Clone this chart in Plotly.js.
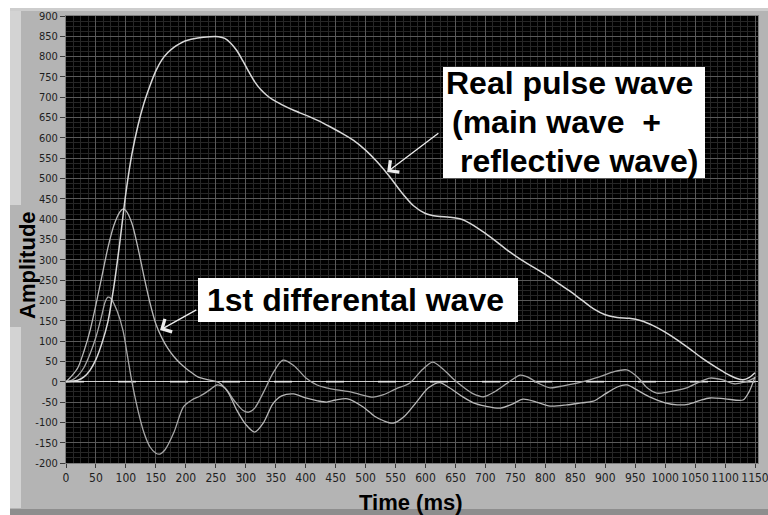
<!DOCTYPE html>
<html>
<head>
<meta charset="utf-8">
<script src="https://cdn.plot.ly/plotly-3.0.1.min.js"></script>
<style>html,body{margin:0;padding:0;background:#fff;}#chart{width:768px;height:515px;}</style>
</head>
<body>
<div id="chart"></div>
<script>
// ---- data ----
const pulseT = [0,10,20,30,40,50,60,70,80,90,100,110,120,130,140,150,160,170,180,190,200,220,240,255,265,275,285,295,305,315,325,335,345,360,380,400,420,440,460,480,500,520,540,560,580,600,620,640,660,680,700,720,740,760,780,800,820,840,860,880,900,920,940,960,980,1000,1020,1040,1060,1080,1100,1120,1130,1140,1150];
const pulseV = [0,1,4,12,28,55,95,148,235,345,465,560,630,685,728,765,792,810,823,832,839,846,849,849,845,833,815,790,763,738,719,705,694,682,668,656,643,628,612,594,570,540,505,466,433,414,407,405,400,385,365,343,320,300,282,264,244,224,202,180,165,158,156,150,138,122,103,82,60,40,22,8,5,10,22];

const diff1T = [0,10,20,30,40,50,60,70,80,90,95,100,110,120,130,140,150,160,170,180,190,200,210,220,240,255,270,285,300,315,330,345,360,380,400,420,435,450,470,496,515,530,546,565,585,605,624,640,660,680,700,725,745,763,785,808,836,860,880,900,920,936,955,975,1000,1020,1040,1060,1075,1100,1130,1140,1150];
const diff1V = [0,15,35,75,125,190,260,330,385,418,425,421,390,330,260,195,142,108,82,62,46,33,22,12,4,-2,-25,-70,-105,-124,-100,-55,-35,-30,-40,-47,-50,-45,-42,-62,-85,-96,-102,-85,-50,-15,-2,-15,-35,-52,-60,-65,-55,-43,-50,-60,-57,-52,-48,-30,-13,-8,-22,-38,-52,-57,-55,-45,-40,-42,-45,-25,12];

const diff2T = [0,10,20,30,40,50,60,65,70,75,85,95,103,110,120,130,140,150,157,165,180,196,210,224,240,252,265,280,295,305,315,330,345,362,380,400,419,435,452,475,495,512,530,550,574,595,612,630,648,663,680,697,715,735,758,770,790,808,830,863,890,915,936,955,970,986,1005,1036,1055,1075,1095,1115,1135,1150];
const diff2V = [0,4,15,35,68,110,165,195,208,205,175,127,60,0,-70,-125,-160,-176,-178,-168,-125,-62,-45,-35,-20,-8,-15,-45,-70,-75,-65,-25,20,53,40,10,-8,-15,-20,-25,-33,-38,-32,-18,-3,30,48,30,5,-13,-30,-37,-25,-5,16,12,-5,-15,-10,0,12,25,29,10,-15,-28,-25,-15,-2,9,5,-5,0,10];

const baseT = [0,1150];
const baseV = [0,0];

const xTicks = [0,50,100,150,200,250,300,350,400,450,500,550,600,650,700,750,800,850,900,950,1000,1050,1100,1150];
const yTicks = [-200,-150,-100,-50,0,50,100,150,200,250,300,350,400,450,500,550,600,650,700,750,800,850,900];

const labelPulse = ['Real pulse wave', '(main wave\u00A0\u00A0+', 'reflective wave)'];
const labelDiff = '1st differental wave';
const xTitle = 'Time (ms)';
const yTitle = 'Amplitude';

// ---- traces ----
const traces = [
  {x: baseT, y: baseV, mode: 'lines', line: {color: '#ffffff', width: 2, dash: '18px,34px'}, opacity: 0.55, hoverinfo: 'skip'},
  {x: diff2T, y: diff2V, mode: 'lines', line: {color: '#a6a6a6', width: 1.3, shape: 'spline', smoothing: 0.8}},
  {x: diff1T, y: diff1V, mode: 'lines', line: {color: '#b8b8b8', width: 1.3, shape: 'spline', smoothing: 0.8}},
  {x: pulseT, y: pulseV, mode: 'lines', line: {color: '#d9d9d9', width: 1.5, shape: 'spline', smoothing: 0.8}}
];

// paper coordinate helpers (plot area 66..758 x 16..463 px)
const L = 66, T = 16, W = 692, H = 447;
const px = v => (v - L) / W;
const py = v => (T + H - v) / H;

const textFont = {family: 'Liberation Sans, Arial, sans-serif', size: 32, color: '#000000', weight: 'bold'};
const titleFont = {family: 'Liberation Sans, Arial, sans-serif', size: 22, color: '#000000', weight: 'bold'};

const shapes = [
  {type: 'rect', xref: 'paper', yref: 'paper', x0: px(0), x1: px(768), y0: py(8), y1: py(0), fillcolor: '#ffffff', line: {width: 0}},
  {type: 'rect', xref: 'paper', yref: 'paper', x0: px(0), x1: px(10), y0: py(515), y1: py(0), fillcolor: '#ffffff', line: {width: 0}},
  {type: 'rect', xref: 'paper', yref: 'paper', x0: px(10), x1: px(768), y0: py(11), y1: py(8), fillcolor: '#cdcdcd', line: {width: 0}},
  {type: 'rect', xref: 'paper', yref: 'paper', x0: px(10), x1: px(21), y0: py(205), y1: py(11), fillcolor: '#d3d3d3', line: {width: 0}},
  {type: 'rect', xref: 'paper', yref: 'paper', x0: px(10), x1: px(21), y0: py(508), y1: py(327), fillcolor: '#d3d3d3', line: {width: 0}},
  {type: 'rect', xref: 'paper', yref: 'paper', x0: px(10), x1: px(768), y0: py(515), y1: py(509), fillcolor: '#8e8e8e', line: {width: 0}},
  {type: 'rect', xref: 'paper', yref: 'paper', layer: 'above', x0: px(443), x1: px(705), y0: py(178), y1: py(67), fillcolor: '#ffffff', line: {width: 0}},
  {type: 'rect', xref: 'paper', yref: 'paper', layer: 'above', x0: px(198), x1: px(518), y0: py(322), y1: py(278), fillcolor: '#ffffff', line: {width: 0}}
];

const annotations = [
  {xref: 'paper', yref: 'paper', x: px(444), y: py(83), xanchor: 'left', yanchor: 'middle', text: labelPulse[0], showarrow: false, font: textFont},
  {xref: 'paper', yref: 'paper', x: px(450), y: py(122), xanchor: 'left', yanchor: 'middle', text: labelPulse[1], showarrow: false, font: textFont},
  {xref: 'paper', yref: 'paper', x: px(458), y: py(161), xanchor: 'left', yanchor: 'middle', text: labelPulse[2], showarrow: false, font: textFont},
  {xref: 'paper', yref: 'paper', x: px(205), y: py(300), xanchor: 'left', yanchor: 'middle', text: labelDiff, showarrow: false, font: textFont},
  // axis titles
  {xref: 'paper', yref: 'paper', x: px(411), y: py(502), xanchor: 'center', yanchor: 'middle', text: xTitle, showarrow: false, font: titleFont},
  {xref: 'paper', yref: 'paper', x: px(27), y: py(265), xanchor: 'center', yanchor: 'middle', text: yTitle, textangle: -90, showarrow: false, font: titleFont},
  // arrows
  {xref: 'x', yref: 'y', axref: 'x', ayref: 'y', x: 536, y: 516, ax: 624, ay: 614, text: '', showarrow: true,
   arrowhead: 4, arrowsize: 2.2, arrowwidth: 1.3, arrowcolor: '#eeeeee', standoff: 0},
  {xref: 'x', yref: 'y', axref: 'x', ayref: 'y', x: 157, y: 127, ax: 220, ay: 179, text: '', showarrow: true,
   arrowhead: 4, arrowsize: 2.2, arrowwidth: 1.3, arrowcolor: '#eeeeee', standoff: 0}
];

const layout = {
  width: 768, height: 515,
  margin: {l: 66, r: 10, t: 16, b: 52, pad: 0},
  paper_bgcolor: '#b4b4b4',
  plot_bgcolor: '#000000',
  showlegend: false,
  xaxis: {
    range: [0, 1155], tickvals: xTicks, ticktext: xTicks.map(String),
    ticks: 'outside', ticklen: 4, tickcolor: '#3a3a3a', ticklabeloverflow: 'allow',
    tickfont: {family: 'Liberation Sans Narrow, DejaVu Sans Condensed, Arial Narrow, sans-serif', size: 12, color: '#1e1e1e'},
    showgrid: true, gridcolor: '#595959', gridwidth: 1,
    minor: {dtick: 12.5, showgrid: true, gridcolor: '#262626', gridwidth: 1},
    zeroline: false, showline: true, linecolor: '#7d7d7d', mirror: true,
    automargin: false, fixedrange: true
  },
  yaxis: {
    range: [-200, 900], tickvals: yTicks, ticktext: yTicks.map(String),
    ticks: 'outside', ticklen: 5, tickcolor: '#3a3a3a', ticklabeloverflow: 'allow',
    tickfont: {family: 'Liberation Sans Narrow, DejaVu Sans Condensed, Arial Narrow, sans-serif', size: 11, color: '#1e1e1e'},
    showgrid: true, gridcolor: '#595959', gridwidth: 1,
    minor: {dtick: 12.5, showgrid: true, gridcolor: '#262626', gridwidth: 1},
    zeroline: true, zerolinecolor: '#cfcfcf', zerolinewidth: 1.5,
    showline: true, linecolor: '#7d7d7d', mirror: true,
    automargin: false, fixedrange: true
  },
  shapes: shapes,
  annotations: annotations
};

Plotly.newPlot('chart', traces, layout, {displayModeBar: false, staticPlot: true});
</script>
</body>
</html>
